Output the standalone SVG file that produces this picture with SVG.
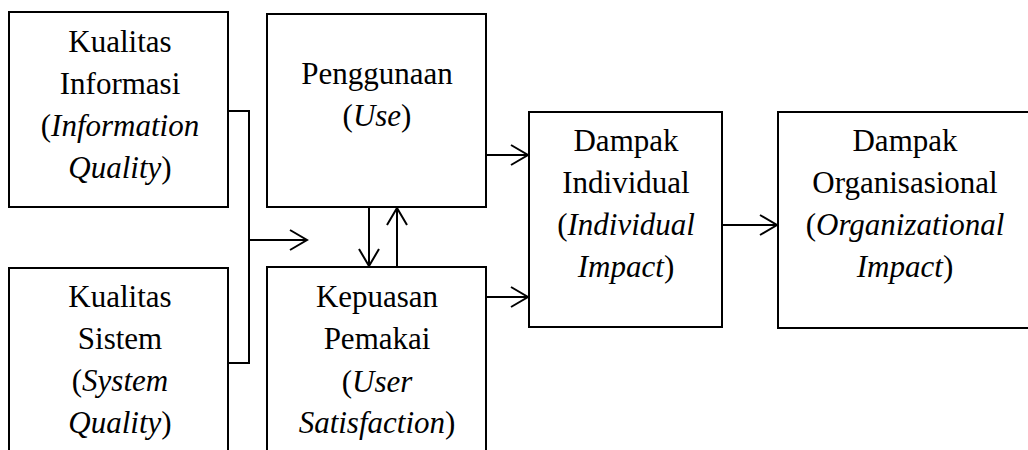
<svg xmlns="http://www.w3.org/2000/svg" width="1028" height="450" viewBox="0 0 1028 450">
<style>
.box{fill:#fff;stroke:#000;stroke-width:2}
.it{font-style:italic}
</style>
<defs>
<marker id="arr" markerUnits="userSpaceOnUse" markerWidth="22" markerHeight="24" refX="18" refY="11" orient="auto" viewBox="0 0 22 24">
<path d="M1,1 L18,11 L1,21" fill="none" stroke="#000" stroke-width="2"/>
</marker>
</defs>
<rect width="1028" height="450" fill="#fff"/>
<g font-family="Times New Roman" font-size="31" text-anchor="middle" fill="#000">
<g id="n1">
<rect class="box" x="9" y="12" width="219" height="195"/>
<text font-family="Times New Roman" x="120" y="52">Kualitas</text>
<text font-family="Times New Roman" x="120" y="94">Informasi</text>
<text font-family="Times New Roman" x="120" y="136">(<tspan class="it">Information</tspan></text>
<text font-family="Times New Roman" x="120" y="178"><tspan class="it">Quality</tspan>)</text>
</g>
<g id="n2">
<rect class="box" x="9" y="268" width="219" height="190"/>
<text font-family="Times New Roman" x="120" y="307">Kualitas</text>
<text font-family="Times New Roman" x="120" y="349">Sistem</text>
<text font-family="Times New Roman" x="120" y="391">(<tspan class="it">System</tspan></text>
<text font-family="Times New Roman" x="120" y="433"><tspan class="it">Quality</tspan>)</text>
</g>
<g id="n3">
<rect class="box" x="267" y="14" width="219" height="193"/>
<text font-family="Times New Roman" x="377" y="84">Penggunaan</text>
<text font-family="Times New Roman" x="377" y="126">(<tspan class="it">Use</tspan>)</text>
</g>
<g id="n4">
<rect class="box" x="267" y="267" width="219" height="191"/>
<text font-family="Times New Roman" x="377" y="307">Kepuasan</text>
<text font-family="Times New Roman" x="377" y="349">Pemakai</text>
<text font-family="Times New Roman" x="377" y="392">(<tspan class="it">User</tspan></text>
<text font-family="Times New Roman" x="377" y="433"><tspan class="it">Satisfaction</tspan>)</text>
</g>
<g id="n5">
<rect class="box" x="529" y="112" width="193" height="215"/>
<text font-family="Times New Roman" x="626" y="151">Dampak</text>
<text font-family="Times New Roman" x="626" y="193">Individual</text>
<text font-family="Times New Roman" x="626" y="235">(<tspan class="it">Individual</tspan></text>
<text font-family="Times New Roman" x="626" y="277"><tspan class="it">Impact</tspan>)</text>
</g>
<g id="n6">
<rect class="box" x="778" y="112" width="260" height="216"/>
<text font-family="Times New Roman" x="905" y="151">Dampak</text>
<text font-family="Times New Roman" x="905" y="193">Organisasional</text>
<text font-family="Times New Roman" x="905" y="235">(<tspan class="it">Organizational</tspan></text>
<text font-family="Times New Roman" x="905" y="277"><tspan class="it">Impact</tspan>)</text>
</g>
</g>
<g id="connectors" fill="none" stroke="#000" stroke-width="2">
<polyline points="228,111 249,111 249,363 228,363"/>
<line x1="249" y1="240" x2="307" y2="240" marker-end="url(#arr)"/>
<line x1="369" y1="207" x2="369" y2="266" marker-end="url(#arr)"/>
<line x1="397" y1="267" x2="397" y2="208" marker-end="url(#arr)"/>
<line x1="486" y1="155" x2="528" y2="155" marker-end="url(#arr)"/>
<line x1="486" y1="297" x2="528" y2="297" marker-end="url(#arr)"/>
<line x1="722" y1="225" x2="777" y2="225" marker-end="url(#arr)"/>
</g>
</svg>
